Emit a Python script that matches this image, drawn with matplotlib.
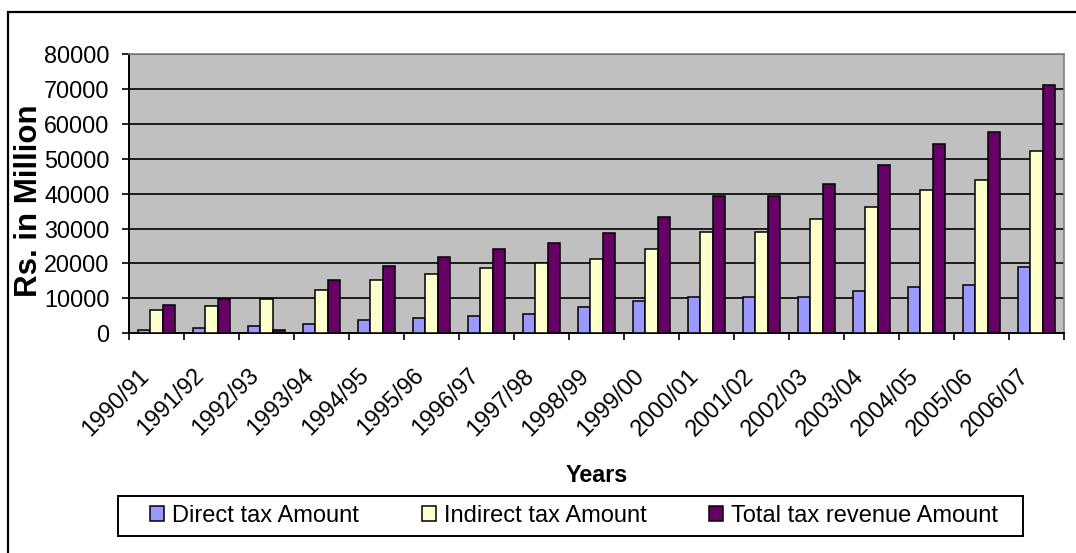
import numpy as np
import matplotlib
matplotlib.use("Agg")
from matplotlib import pyplot as plt
from matplotlib.patches import Rectangle

years = ["1990/91", "1991/92", "1992/93", "1993/94", "1994/95", "1995/96",
         "1996/97", "1997/98", "1998/99", "1999/00", "2000/01", "2001/02",
         "2002/03", "2003/04", "2004/05", "2005/06", "2006/07"]

direct = [1000, 1500, 2200, 2700, 3800, 4400, 5000, 5600, 7500, 9200,
          10500, 10500, 10500, 12200, 13300, 13900, 18900]
indirect = [6800, 7900, 9900, 12400, 15300, 17000, 18800, 20000, 21200, 24100,
            28900, 28900, 32600, 36300, 41000, 43800, 52300]
total = [8000, 9900, 1000, 15300, 19300, 21800, 24100, 25800, 28700, 33400,
         39400, 39400, 42800, 48200, 54100, 57600, 71000]

series = ["Direct tax Amount", "Indirect tax Amount", "Total tax revenue Amount"]
colors = ["#9999FF", "#FFFFCC", "#660066"]

plt.rcParams.update({"font.family": ["Liberation Sans", "DejaVu Sans"], "font.size": 16.8})

W, H = 1076, 553
fig = plt.figure(figsize=(W / 100, H / 100), dpi=100)
ax = fig.add_axes([129 / W, 1 - 333.3 / H, (1064 - 129) / W, (333.3 - 54) / H])

x = np.arange(len(years))
bw = 0.224
for k, (vals, col, lab) in enumerate(zip([direct, indirect, total], colors, series)):
    ax.bar(x + (k - 1) * bw, vals, bw, color=col, edgecolor="black",
           linewidth=1.1, label=lab, zorder=3)

ax.set_facecolor("#C0C0C0")
ax.set_xlim(-0.5, len(years) - 0.5)
ax.set_ylim(0, 80000)
ax.set_yticks(np.arange(0, 80001, 10000))
ax.yaxis.grid(True, color="black", linewidth=1.2, zorder=1)
ax.set_axisbelow(True)

# category boundaries carry the ticks; the slanted labels hang from
# invisible minor ticks set a little left of each centre
ax.set_xticks(np.arange(-0.5, len(years), 1.0))
ax.set_xticklabels([])
ax.set_xticks(x - 0.2, minor=True)
ax.set_xticklabels(years, minor=True, rotation=45, ha="right", va="center",
                   rotation_mode="anchor")
ax.tick_params(axis="x", which="minor", length=0, pad=28)
ax.tick_params(axis="x", which="major", length=5, width=1.2, direction="out")
ax.tick_params(axis="y", length=5, width=1.2, direction="out", pad=9)

for s in ["left", "bottom"]:
    ax.spines[s].set_color("black")
    ax.spines[s].set_linewidth(1.4)
for s in ["top", "right"]:
    ax.spines[s].set_color("#808080")
    ax.spines[s].set_linewidth(1.2)

fig.text(29 / W, 1 - 201 / H, "Rs. in Million", fontweight="bold", fontsize=22.5,
         rotation=90, ha="center", va="center")
fig.text(596.5 / W, 1 - 475 / H, "Years", fontweight="bold",
         ha="center", va="center")

# legend with its own box
leg = fig.legend(loc="center", bbox_to_anchor=(574 / W, 1 - 516 / H), ncol=3,
                 frameon=False, handlelength=0.6, handleheight=0.6,
                 handletextpad=0.33, columnspacing=2.66, borderpad=0,
                 fontsize=17)
fig.add_artist(Rectangle((118 / W, 1 - 536 / H), (1023 - 118) / W, 40 / H,
                         transform=fig.transFigure, fill=False,
                         edgecolor="black", linewidth=1.4))

# outer chart frame
fig.add_artist(Rectangle((8 / W, -0.1), 1.1, 1.1 - 12 / H,
                         transform=fig.transFigure, fill=False,
                         edgecolor="black", linewidth=1.6, clip_on=False))

fig.savefig("out.png", dpi=100, facecolor="white")
